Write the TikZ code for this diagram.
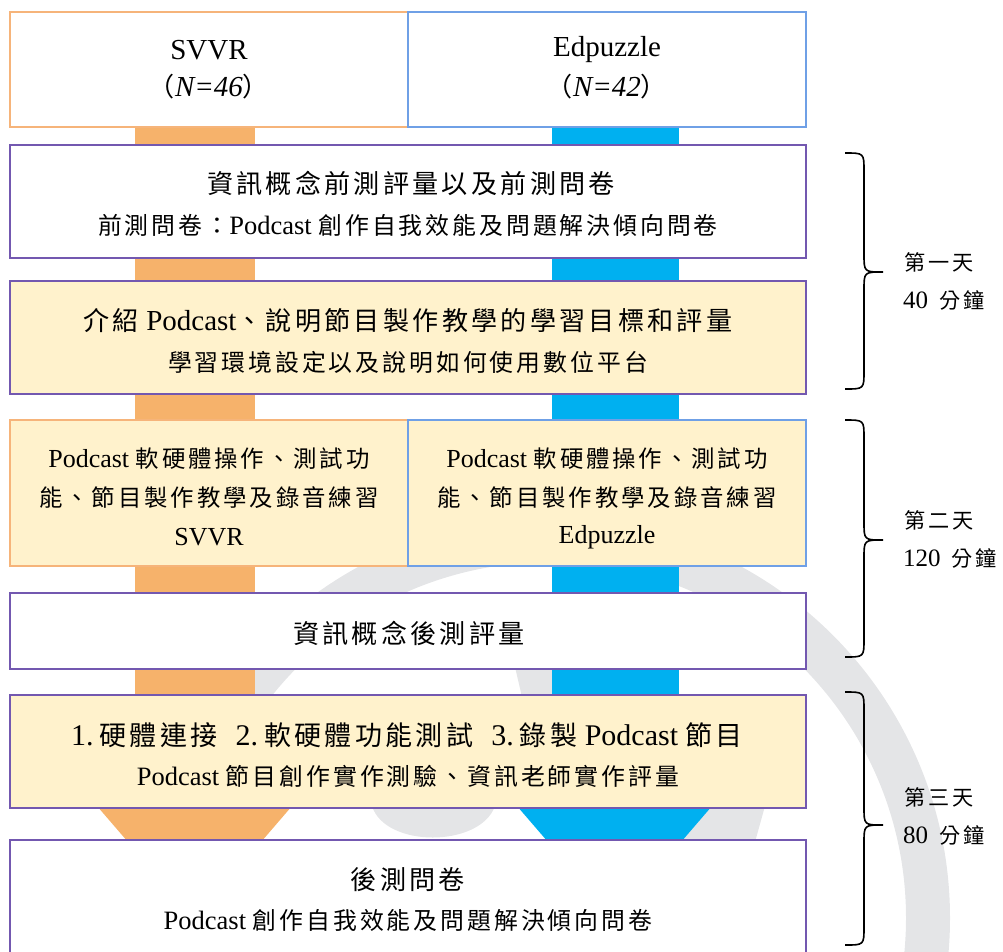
\documentclass[tikz,border=0pt]{standalone}
\usepackage{fontspec}
\setmainfont{Liberation Serif}
\newfontfamily\zhfont{Noto Sans CJK TC}[Scale=0.9,LetterSpace=12.5]
\newfontfamily\lblfont{Noto Sans CJK TC}[Scale=0.92,LetterSpace=14]
\newcommand\zh[1]{{\zhfont #1}}
\newcommand\lb[1]{{\lblfont #1}}
\newcommand\szA{\fontsize{29}{34}\selectfont}
\newcommand\szE{\fontsize{30}{35}\selectfont}
\newcommand\szB{\fontsize{26.5}{32}\selectfont}
\newcommand\szC{\fontsize{26}{31}\selectfont}
\newcommand\szD{\fontsize{23}{27}\selectfont}
\newcommand\szN{\fontsize{25}{29}\selectfont}
\definecolor{orbar}{HTML}{F6B26B}
\definecolor{blbar}{HTML}{00B0F0}
\definecolor{orline}{HTML}{F6B47A}
\definecolor{blline}{HTML}{6FA0E6}
\definecolor{purp}{HTML}{7358B0}
\definecolor{yel}{HTML}{FFF2CC}
\definecolor{wm}{HTML}{E4E5E7}
\begin{document}
\begin{tikzpicture}[x=1pt,y=-1pt,
  box/.style={line width=2pt, inner sep=0pt, outer sep=0pt},
  pbox/.style={box, draw=purp},
  obox/.style={box, draw=orline},
  bbox/.style={box, draw=blline},
  txt/.style={inner sep=0pt, anchor=center},
  lbl/.style={inner sep=0pt, anchor=west, font=\szD},
  brc/.style={line width=1.6pt, black}]
\useasboundingbox (0,0) rectangle (1003,951);
\clip (0,0) rectangle (1003,951);
% watermark (ring and inner emblem fragments)
\fill[wm, even odd rule] (550,918) circle[radius=400] (550,918) circle[radius=356];
\fill[wm] (372,806) .. controls (385,848) and (480,848) .. (495,806) -- cycle;
\fill[wm] (700,806) -- (765,806) -- (755,842) -- (680,842) -- cycle;
\fill[wm] (515,667) -- (553,667) -- (553,697) -- (522,697) -- cycle;
% flow bars
\fill[orbar] (135,127) rectangle (255,812);
\fill[blbar] (552,127) rectangle (679,812);
\fill[orbar] (97,806) -- (292,806) -- (261,842) -- (128,842) -- cycle;
\fill[blbar] (517,806) -- (712,806) -- (681,842) -- (548,842) -- cycle;
% boxes
\node[obox, fill=white, minimum width=398, minimum height=115] (hL) at (209,69.5) {};
\node[bbox, fill=white, minimum width=398, minimum height=115] (hR) at (607,69.5) {};
\node[pbox, fill=white, minimum width=796, minimum height=113] (b1) at (408,201.5) {};
\node[pbox, fill=yel, minimum width=796, minimum height=113] (b2) at (408,337.5) {};
\node[obox, fill=yel, minimum width=398, minimum height=146] (b3L) at (209,493) {};
\node[bbox, fill=yel, minimum width=398, minimum height=146] (b3R) at (607,493) {};
\node[pbox, fill=white, minimum width=796, minimum height=76] (b4) at (408,631) {};
\node[pbox, fill=yel, minimum width=796, minimum height=113] (b5) at (408,751.5) {};
\node[pbox, fill=white, minimum width=796, minimum height=135] (b6) at (408,907.5) {};
% texts
\node[txt, font=\szA] (t0a) at (209,50) {SVVR};
\node[txt, font=\szA] (t0b) at (209,87) {\zh{（}\textit{N=46}\zh{）}};
\node[txt, font=\szA] (t0c) at (607,50) {Edpuzzle};
\node[txt, font=\szA] (t0d) at (607,87) {\zh{（}\textit{N=42}\zh{）}};
\node[txt, font=\szA] (t1a) at (411,183) {\zh{資訊概念前測評量以及前測問卷}};
\node[txt, font=\szB] (t1b) at (408,225) {\zh{前測問卷：}Podcast \zh{創作自我效能及問題解決傾向問卷}};
\node[txt, font=\szA] (t2a) at (408,321) {\zh{介紹} Podcast\zh{、說明節目製作教學的學習目標和評量}};
\node[txt, font=\szB] (t2b) at (408,362) {\zh{學習環境設定以及說明如何使用數位平台}};
\node[txt, font=\szC] (t3a) at (209,459) {Podcast \zh{軟硬體操作、測試功}};
\node[txt, font=\szC] (t3b) at (209,498) {\zh{能、節目製作教學及錄音練習}};
\node[txt, font=\szC] (t3c) at (209,537) {SVVR};
\node[txt, font=\szC] (t3d) at (607,459) {Podcast \zh{軟硬體操作、測試功}};
\node[txt, font=\szC] (t3e) at (607,498) {\zh{能、節目製作教學及錄音練習}};
\node[txt, font=\szC] (t3f) at (607,537) {Edpuzzle};
\node[txt, font=\szA] (t4) at (409,633) {\zh{資訊概念後測評量}};
\node[txt, font=\szE] (t5a) at (407,735) {1.\hskip6pt\zh{硬體連接}\hskip18pt 2.\hskip6pt\zh{軟硬體功能測試}\hskip18pt 3.\hskip6pt\zh{錄製} Podcast \zh{節目}};
\node[txt, font=\szB] (t5b) at (408,776) {Podcast \zh{節目創作實作測驗、資訊老師實作評量}};
\node[txt, font=\szA] (t6a) at (408,880) {\zh{後測問卷}};
\node[txt, font=\szB] (t6b) at (408,920) {Podcast \zh{創作自我效能及問題解決傾向問卷}};
% braces
\draw[brc] (845,153) .. controls (864,153) .. (864,171) -- (864,254) .. controls (864,272) .. (883,272) .. controls (864,272) .. (864,290) -- (864,371) .. controls (864,389) .. (845,389);
\draw[brc] (845,420) .. controls (864,420) .. (864,438) -- (864,522) .. controls (864,540) .. (883,540) .. controls (864,540) .. (864,558) -- (864,639) .. controls (864,657) .. (845,657);
\draw[brc] (845,692) .. controls (864,692) .. (864,710) -- (864,807) .. controls (864,825) .. (883,825) .. controls (864,825) .. (864,843) -- (864,927) .. controls (864,945) .. (845,945);
% day labels
\node[lbl] (d1a) at (904,262) {\lb{第一天}};
\node[lbl] (d1b) at (903,300) {{\szN 40}\hskip11pt\lb{分鐘}};
\node[lbl] (d2a) at (904,520) {\lb{第二天}};
\node[lbl] (d2b) at (903,558) {{\szN 120}\hskip11pt\lb{分鐘}};
\node[lbl] (d3a) at (904,797) {\lb{第三天}};
\node[lbl] (d3b) at (903,835) {{\szN 80}\hskip11pt\lb{分鐘}};
\end{tikzpicture}
\end{document}
